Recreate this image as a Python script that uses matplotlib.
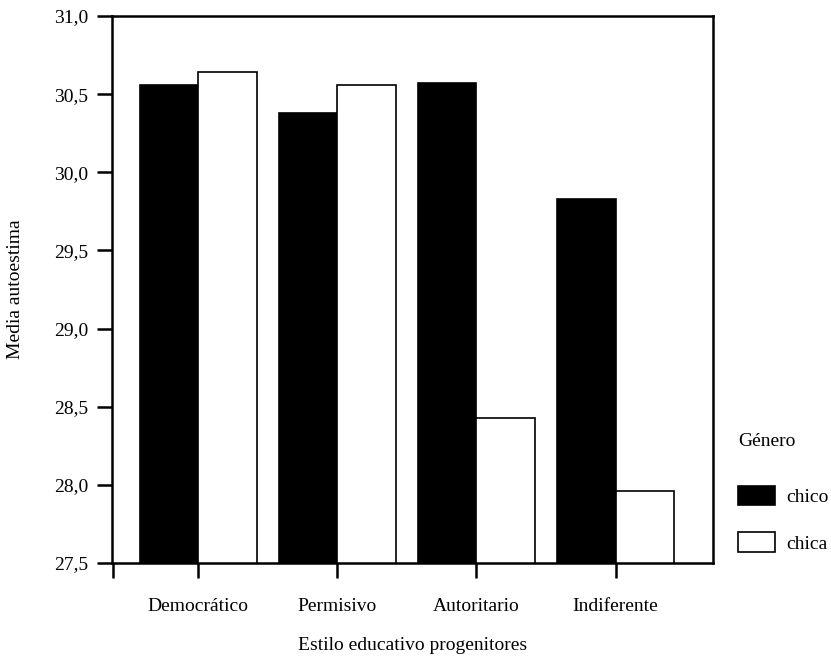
import matplotlib
matplotlib.use("Agg")
import matplotlib.pyplot as plt
import numpy as np

categories = ["Democrático", "Permisivo", "Autoritario", "Indiferente"]
chico = [30.56, 30.38, 30.57, 29.83]
chica = [30.64, 30.56, 28.43, 27.96]
yticks = [27.5, 28.0, 28.5, 29.0, 29.5, 30.0, 30.5, 31.0]
ytick_labels = ["27,5", "28,0", "28,5", "29,0", "29,5", "30,0", "30,5", "31,0"]

plt.rcParams['font.family'] = ['Liberation Serif', 'DejaVu Serif']

W, H = 831, 659
fig = plt.figure(figsize=(W / 100, H / 100), dpi=100)
ax = fig.add_axes([112 / W, (H - 563) / H, (713 - 112) / W, (563 - 16) / H])

x = np.arange(len(categories))
bw = 0.42
ax.bar(x - bw / 2, chico, bw, color="black", edgecolor="black", linewidth=1.2, label="chico")
ax.bar(x + bw / 2, chica, bw, color="white", edgecolor="black", linewidth=1.2, label="chica")

ax.set_xlim(-0.62, 3.70)
ax.set_ylim(27.5, 31.0)
ax.set_yticks(yticks)
ax.set_yticklabels(ytick_labels, fontsize=14)
ax.set_xticks(x)
ax.set_xticklabels(categories, fontsize=14)
ax.set_xticks([-0.615], minor=True)
ax.tick_params(axis="both", which="both", direction="out", length=11, width=1.8, pad=6)
ax.tick_params(axis="x", which="both", pad=14)
for s in ax.spines.values():
    s.set_linewidth(1.8)

ax.set_ylabel("Media autoestima", fontsize=14, labelpad=22)
ax.set_xlabel("Estilo educativo progenitores", fontsize=14, labelpad=16)

leg = ax.legend(loc="upper left", bbox_to_anchor=(730 / W, (H - 425) / H),
                bbox_transform=fig.transFigure, frameon=False, fontsize=14,
                title="Género", title_fontsize=14, alignment="left",
                handlelength=1.9, handleheight=1.15, labelspacing=1.35,
                handletextpad=0.6, borderaxespad=0)
leg._legend_box.sep = 26

fig.savefig("out.png", dpi=100)
